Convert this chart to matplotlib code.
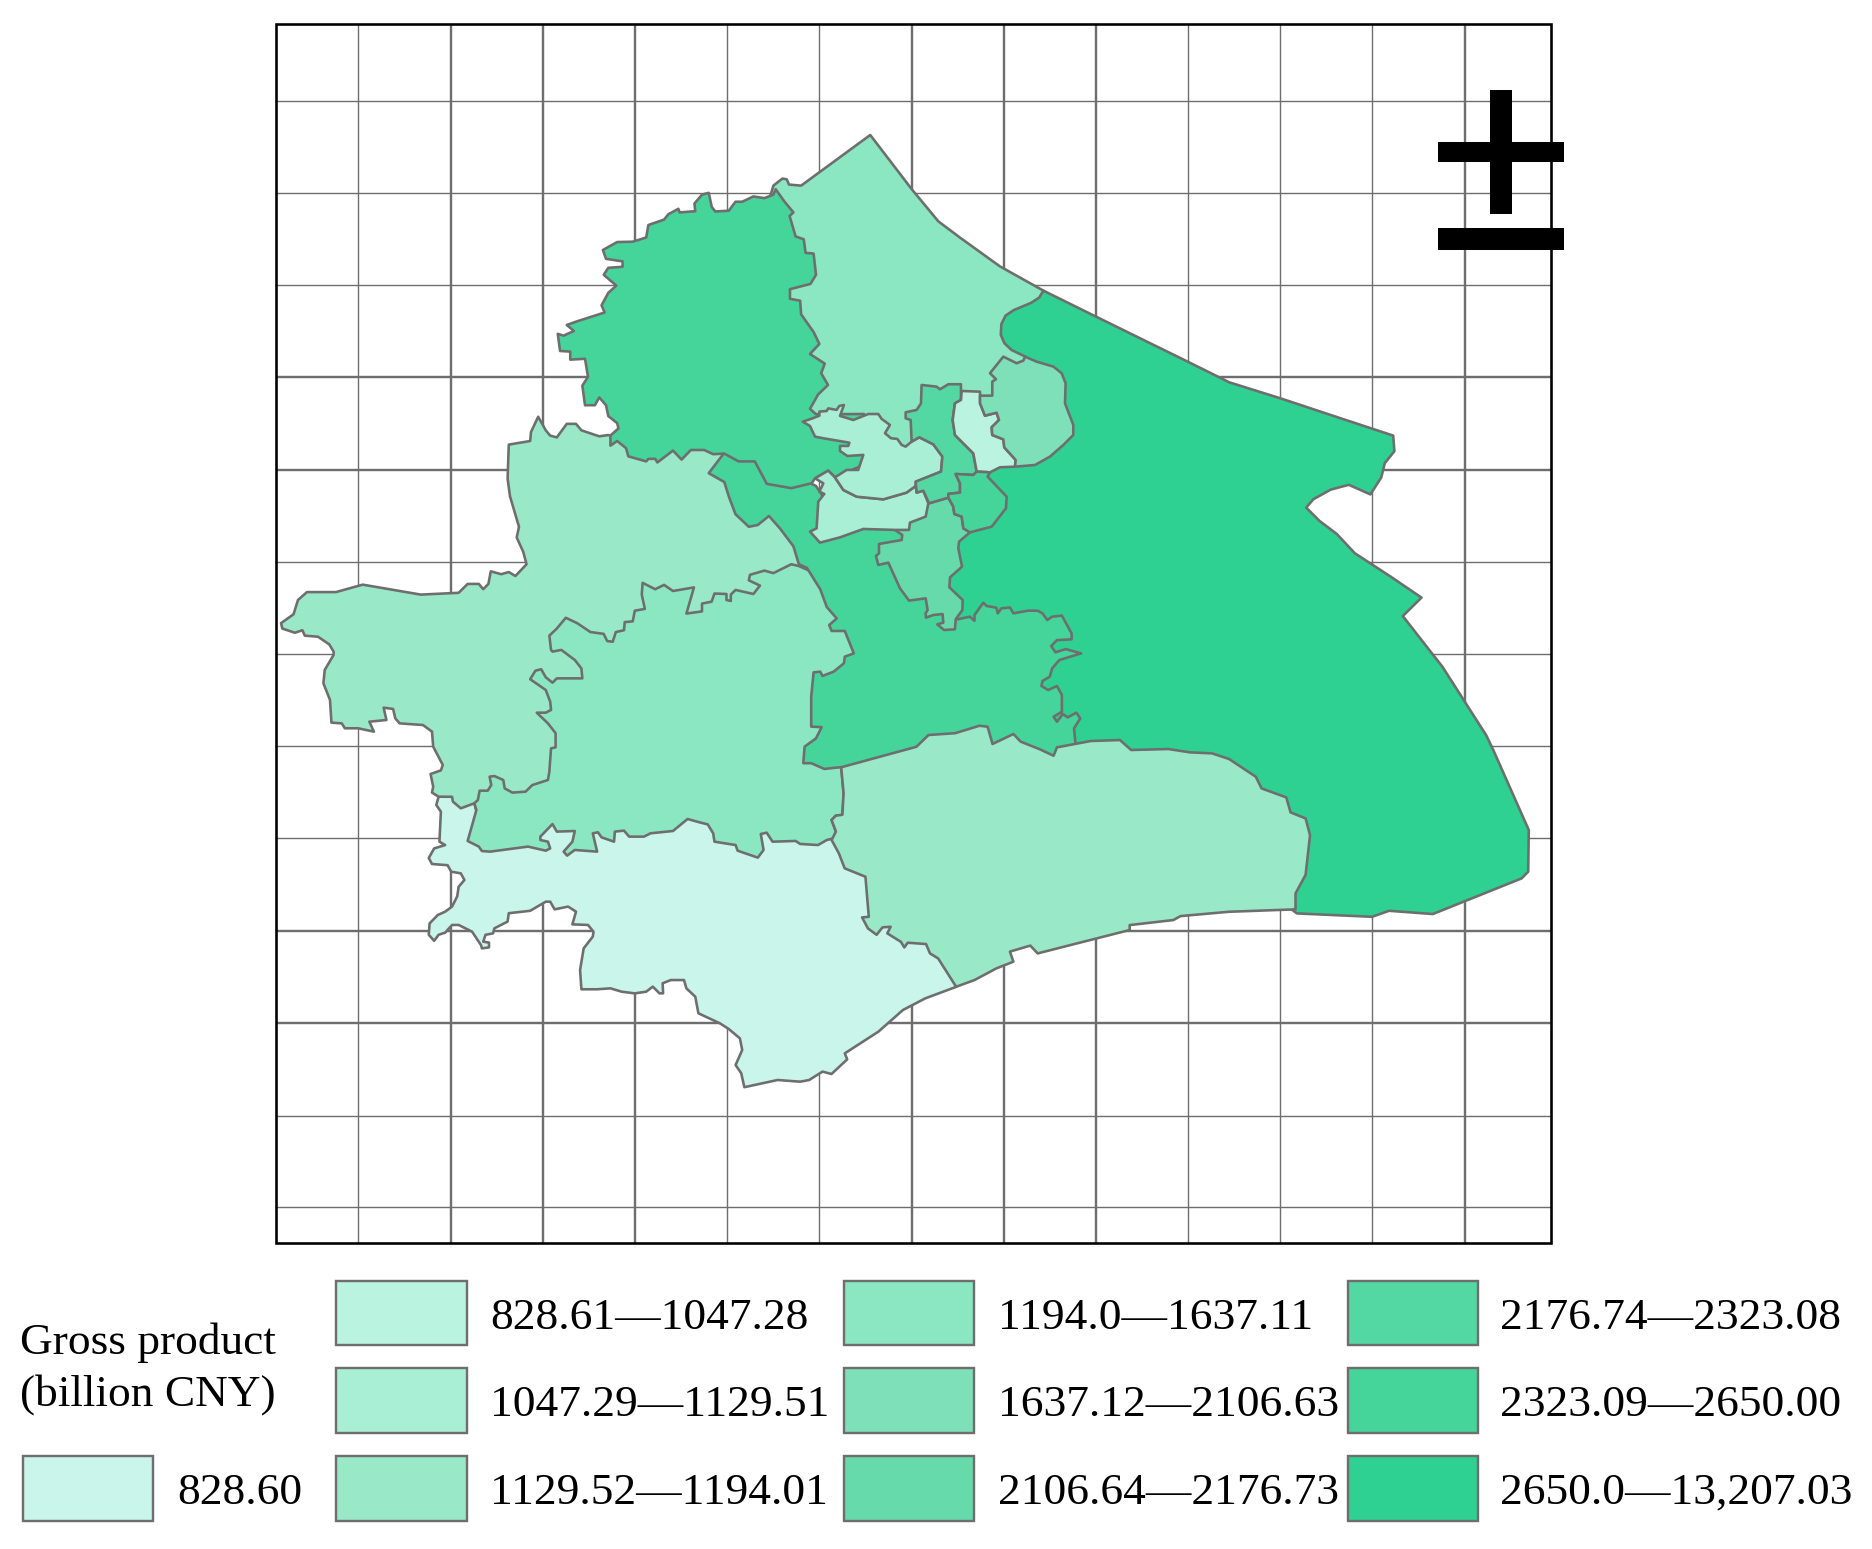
"""Choropleth of gross product by district, drawn in picture units (1 unit = 1.2 px)."""

import matplotlib

matplotlib.use("Agg")
import matplotlib.pyplot as plt  # noqa: E402
from matplotlib.patches import Polygon, Rectangle  # noqa: E402

plt.rcParams["font.family"] = ["Liberation Serif", "DejaVu Serif"]

# legend classes, lightest first
class_labels = ["828.60", "828.61\u20141047.28", "1047.29\u20141129.51", "1129.52\u20141194.01",
                "1194.0\u20141637.11", "1637.12\u20142106.63", "2106.64\u20142176.73",
                "2176.74\u20142323.08", "2323.09\u20142650.00", "2650.0\u201413,207.03"]
class_colors = ["#C9F5EA", "#BAF3E0", "#A9EFD6", "#99E9C9", "#8AE7C1",
                "#7DE0B8", "#66DAAB", "#54D8A3", "#45D49A", "#2ED191"]

# graticule
grid_x_thin = [298.5, 606.2, 682.8, 990.1, 1066.9, 1143.4]
grid_x_thick = [375.9, 452.5, 529.2, 759.8, 836.6, 913.0, 1220.8]
grid_y_thin = [84.5, 161.0, 237.8, 468.1, 545.2, 621.9, 698.6, 929.8, 1006.0]
grid_y_thick = [314.5, 391.3, 775.8, 852.5]

# district outlines; later ones are drawn over earlier ones and hide the rough inner edges
east = [(869.5, 242.2), (912.4, 263.4), (989.8, 301.4), (1017.8, 315.3), (1024.4, 318.6), (1067.2, 332),
        (1120, 349.5), (1161, 363), (1162, 376), (1154, 386), (1151, 398), (1142, 412), (1124, 404),
        (1109, 408), (1094.5, 416), (1088.5, 423), (1099.5, 434), (1114, 445), (1129, 461), (1159, 480.6),
        (1184.6, 498), (1169, 513.4), (1202, 555.6), (1238.4, 612.5), (1244.4, 625), (1274, 691.7),
        (1273.5, 726.4), (1268, 732), (1194, 761.7), (1157.6, 759), (1143.4, 764), (1080.8, 761.2),
        (1000, 700), (780, 560), (770, 470), (780, 410), (800, 400), (810, 350), (820, 270)]
south = [(365.5, 663.9), (363.6, 670.8), (367.4, 676.4), (366.2, 701.4), (371, 704.2), (361.8, 707),
         (357.3, 715), (360, 720), (373, 721), (376, 726.4), (384, 727.8), (387, 733.3), (382.2, 739),
         (381, 747), (376.7, 755.5), (371, 759.7), (364.8, 762.5), (358, 769.5), (357.3, 779), (361.8, 784),
         (365.5, 779), (371, 777.2), (376.7, 770.8), (382.2, 770.8), (393.4, 776.4), (400.8, 787.5),
         (401.6, 790.3), (407.5, 789.5), (407.5, 785.5), (402.7, 784.7), (404.6, 779), (410.9, 777.8),
         (412, 773.6), (423, 768), (424, 761), (441.8, 759), (454.8, 751.4), (458.5, 751.4), (462.2, 757.8),
         (473.4, 755.5), (480, 759.7), (477, 770.3), (490, 770.8), (494.6, 776.4), (494, 780.5),
         (486.4, 790.3), (483.4, 808.3), (484.5, 824.4), (497.6, 824.4), (508.7, 823.6), (518, 826.4),
         (529, 827.8), (538.5, 826.4), (544, 822.2), (549.6, 827.8), (552.6, 827.8), (552.2, 819.4),
         (559, 816.7), (570, 816.7), (572, 823.6), (579.4, 830.6), (582, 844.4), (600, 852.8), (607.3, 857.5),
         (616.6, 865.3), (618.5, 875), (613, 887.5), (617.7, 894.4), (620.3, 906), (648, 900), (666.8, 901.4),
         (674.3, 900), (685.4, 893), (692.9, 895), (706, 882.8), (704, 877.8), (732, 859.7), (752.4, 841.7),
         (771, 832), (797, 822.3), (780, 740), (680, 680), (500, 680), (420, 680), (400, 660)]
west = [(448.5, 347.3), (454.8, 358.6), (458.5, 363), (464, 364.5), (472.3, 353.2), (480, 353.2), (484.5, 358.6),
        (499.4, 363.6), (507, 362.5), (512, 365), (520, 360), (590, 360), (640, 400), (690, 470), (600, 600),
        (450, 680), (398, 680), (395.3, 669.4), (384, 673.6), (377.4, 668), (376.7, 664), (365.5, 663.9),
        (360, 660.5), (361, 655.5), (358.8, 645), (367.4, 642), (369, 637.5), (361, 622.2), (360, 609.7),
        (352.5, 604.2), (333, 602.8), (329.4, 598.6), (327.6, 590.8), (319.7, 589.7), (322, 600), (307.8, 601.4),
        (311.6, 609.7), (298.5, 606.9), (287.4, 606.9), (284.8, 602.8), (276.2, 602.2), (275, 583.3),
        (269.5, 569.4), (270.6, 558.3), (278, 545.8), (278, 543), (274.4, 537), (265, 530.6), (254, 529.7),
        (252, 525.2), (245.7, 527.3), (235.3, 523.8), (234.2, 519.3), (244.6, 511.9), (248.3, 500),
        (255.8, 493.4), (280, 493.4), (302.3, 487.2), (350.6, 495.5), (382.2, 494), (389.7, 486.6), (399, 486.6),
        (402.7, 491), (407, 486.6), (409, 476.1), (417.6, 478.5), (424, 476.7), (429.5, 480), (438.8, 470.2),
        (436, 459.8), (430.6, 447.9), (432.5, 439), (425, 413.6), (423, 398.8), (424, 370.5), (441.8, 367.5),
        (442.5, 360)]
middle = [(665.7, 471.7), (659.4, 470.2), (644.5, 477.6), (637, 475.5), (625, 479), (624, 483.6), (633.3, 488),
          (627.8, 495), (613, 491.6), (609, 495.5), (609, 500.8), (605.4, 500), (605.4, 495), (595.4, 494.6),
          (593, 501.4), (585, 503), (585, 509.5), (572, 511.3), (578.3, 489.5), (560.8, 492.5), (553.4, 487.4),
          (546, 491), (535.5, 485.7), (534.8, 495.5), (537.4, 507.4), (529, 508.9), (527.3, 517.8), (520.6, 518.4),
          (520, 525.2), (513.2, 526.7), (510.6, 534.8), (506, 534.2), (503, 528.2), (492, 526.7), (481, 519.3),
          (471.5, 514.8), (464, 523.8), (457.8, 529.7), (459.2, 541.6), (460.4, 543), (467.8, 541.6), (479, 550),
          (484.5, 557), (485.3, 565.3), (464, 565.3), (460.4, 568.9), (454.8, 564.4), (451, 557.7), (446.2, 558.9),
          (441.8, 566), (454.8, 575), (458.5, 584.7), (459.2, 591.6), (454.8, 593.9), (447.3, 593.9), (456.6, 602.8),
          (463, 611), (463, 622.8), (459.2, 623.6), (457.8, 643), (456.6, 650), (443.6, 654.2), (438, 659.7),
          (427, 660.5), (420.6, 657), (419.4, 650), (412, 646.7), (408, 647.2), (409.4, 654.2), (406.4, 658.9),
          (399.7, 658.9), (398.2, 666.7), (395.3, 669.4), (397, 675), (389.7, 700.8), (399, 705.5), (401.6, 709.2),
          (408.3, 709.7), (440, 705.5), (454.8, 708.9), (458.5, 707), (456.6, 701.4), (450.3, 700), (450.3, 697.2),
          (460.4, 686.7), (464, 693), (479, 692.5), (477, 701.4), (469.7, 709.7), (472.6, 713), (479, 708.3),
          (497.6, 709.7), (494, 694.4), (498.3, 693.6), (501.3, 697.8), (511.7, 701.4), (512.4, 693), (520, 692.2),
          (524.3, 697.2), (536.6, 697.2), (542.2, 694.4), (560.8, 692.5), (573, 682.5), (583, 685.3), (589.8, 687),
          (594.3, 694.4), (595.4, 701.4), (613, 704.2), (614.7, 708.9), (631.5, 714.7), (636.3, 708.3), (634, 695),
          (638.9, 693.9), (643.8, 701.4), (663, 700.8), (666.8, 703.3), (681.7, 704.2), (689, 700), (694.7, 698.6),
          (696.6, 693), (693, 683.3), (696.6, 679.7), (702, 679), (703, 661), (701, 639.4), (730, 500)]
north = [(644.5, 154.7), (652, 148.8), (655.6, 149.4), (657.5, 153.8), (667.6, 154.7), (725.2, 112.5), (759.8, 157.7),
         (782, 184.5), (800, 198), (833.3, 222), (869.5, 242.2), (866, 248), (859, 252.5), (844.8, 258.4), (838, 263),
         (834.5, 270), (834, 279), (837, 286), (843, 291.7), (854.7, 297.3), (854, 300), (840, 350), (760, 380),
         (700, 375), (680, 360), (650, 300), (640, 170)]
central_band = [(603.6, 377.3), (590.6, 394.3), (603.6, 401.7), (607.3, 413.6), (612.9, 428.5), (624, 439),
                (631.5, 437.5), (640.8, 430), (650, 440.4), (661.2, 455.3), (665.7, 470.2), (672.4, 473.2),
                (683.5, 491), (689, 505.9), (697.3, 515.4), (691, 520.8), (693, 525.8), (704, 525.8), (711.5, 544.5),
                (704, 547.2), (703.3, 552.7), (694.7, 559.7), (685.4, 563.3), (683.5, 559.7), (678, 560.3),
                (676, 580.5), (676, 605.5), (684.7, 606), (680, 615.3), (670.5, 622.2), (669.4, 636), (676, 636),
                (687, 640.8), (696.6, 639.7), (701, 639.4), (800, 640), (880, 640), (896.2, 625), (896.2, 618.9),
                (895, 607), (900.2, 598.7), (897, 593.9), (889.7, 597.8), (885.7, 595), (880.8, 601.4), (878, 597.3),
                (884.9, 593.1), (884.9, 579.2), (880.8, 571.7), (873.5, 575), (867.9, 571.7), (868.7, 567.5),
                (874.8, 563.9), (876.8, 557), (882.8, 550), (901, 544.5), (888, 540.9), (879.6, 543.6), (876, 538.4),
                (880.8, 533.4), (893, 532.8), (893, 527.8), (886.9, 516.7), (884.9, 513), (876.8, 513.9),
                (872.7, 516.7), (868.7, 511.1), (864.7, 508.9), (856.6, 508.9), (844.5, 511.1), (841.6, 506.2),
                (834.4, 507), (831.5, 511.1), (830.3, 506.4), (822.2, 505), (819.4, 502.3), (812.1, 512.5),
                (812.1, 517.3), (808.1, 513.9), (798, 516.1), (770, 450), (740, 430), (690, 420), (680, 405),
                (660, 395), (630, 380)]
northwest = [(646.4, 157.7), (653.8, 168.1), (661.2, 177), (658, 180), (663, 197), (669.8, 199.4), (671.3, 210.7),
             (678, 211.3), (680, 229), (675.4, 236.6), (658.3, 241), (658.3, 249), (666.8, 250.6), (667.6, 261.9),
             (678, 276.7), (682.8, 286.6), (675, 295), (687.3, 303), (684.3, 311), (690, 320.8), (681.7, 328.8),
             (675, 340.7), (680, 345.2), (720, 345), (725, 385), (695.8, 397.8), (690.2, 392.2), (679.2, 398.6),
             (676.4, 402.7), (659.4, 406.8), (639, 403.2), (629, 384.5), (615.5, 384.5), (603.6, 378), (594.3, 378.5),
             (586.8, 375), (575.7, 375), (568, 383), (560.8, 375.5), (547.8, 385.4), (546, 382.4), (540.3, 382.4),
             (538.5, 384.5), (523.6, 380.3), (521.7, 373.5), (514.3, 367.5), (508.7, 371.4), (508.7, 363), (515.4, 357),
             (514.3, 352.6), (506.9, 346.7), (505, 337.7), (499.4, 331.2), (495.7, 337.7), (487.5, 337.7), (485.3, 321.4),
             (490, 314), (487.5, 299), (475.2, 299.7), (475.2, 293), (466.7, 292.5), (464.8, 278.2), (469.7, 279.7),
             (478.2, 275.8), (472.3, 270.8), (480.8, 267.8), (503.9, 260.4), (501.3, 254.4), (506.9, 244), (513.6, 238),
             (503.1, 229), (506.9, 223.2), (518.8, 222.3), (518.8, 217.8), (505, 215.7), (502.4, 208.3), (514.3, 201.7),
             (527.3, 201.4), (538.5, 197.9), (540.3, 187.5), (553.4, 183), (557, 178.5), (565.3, 174), (566.4, 177),
             (579.4, 176), (578.7, 169.6), (585, 162.2), (590.6, 160.7), (593.2, 172.6), (596.1, 176.2), (607.3, 175.6),
             (612.9, 168.1), (618.5, 168.1), (627.8, 163.7), (637, 165.1), (644.5, 162.2)]
southeast = [(701, 639.4), (763.7, 622.3), (773.8, 612.5), (796, 611), (816.2, 604.8), (823, 605.6), (827.1, 620),
             (844.5, 611.7), (850.5, 618), (866.7, 624.5), (878, 629.8), (880.8, 622.8), (909, 617.5), (933.3, 616.7),
             (942.6, 625), (973.7, 624.2), (991.9, 627), (1010, 627.8), (1024.2, 632.5), (1046.5, 647.3), (1051.3, 657),
             (1071.9, 664.5), (1075.5, 677), (1088, 682), (1091.7, 696), (1088, 729), (1079.6, 744.5), (1079.6, 757.8),
             (1024.2, 759.8), (983.8, 763.4), (977.8, 766.7), (941.4, 770.9), (941.4, 775), (864.7, 794.5), (858.6, 788),
             (841.6, 793), (844.5, 801.4), (830.3, 807), (812.1, 816.7), (796.8, 822.3), (781.8, 798.7), (775, 794.5),
             (771.7, 786.7), (756.4, 785.6), (753.6, 789.5), (750.7, 784.8), (739.4, 777.8), (742.2, 772.3), (735.4, 772.8),
             (730.5, 779), (723.3, 773.7), (718.4, 764.5), (724, 764), (721.2, 730.6), (703.9, 723.6), (699, 711), (693, 700),
             (696.6, 693), (693, 683.3), (696.6, 679.7), (702, 679), (703, 661)]
xuhui = [(774.2, 419.4), (790.3, 414.7), (794.4, 422.2), (795.3, 428.3), (801.4, 430.5), (802.8, 440.3), (808.3, 443.6),
         (799.2, 451.4), (798.6, 457), (801.7, 472.2), (791.7, 481.1), (791.1, 489.4), (802.2, 500), (802, 508.3),
         (796.4, 516.1), (795.8, 524.4), (786.7, 525), (781.1, 520.3), (786.1, 518.9), (785.5, 511.7), (777.8, 512.5),
         (771.6, 514.7), (771.4, 511.1), (773, 508.3), (771.4, 498.6), (757.5, 500.5), (750, 490.3), (740.3, 468.9),
         (731.9, 470.8), (730, 463.3), (732.5, 461.1), (732.5, 453.3), (751.4, 450), (751.9, 445.8), (745.8, 441.6),
         (760, 430)]
changning = [(690.2, 392.2), (695.8, 397.8), (702.8, 408.3), (713.9, 413.9), (736.1, 416.1), (755.5, 410.5), (763, 405),
             (763.9, 410.5), (769.4, 408.9), (773.6, 419.4), (771.4, 430.5), (758.3, 435.5), (757.5, 441.6), (745.8, 441.6),
             (719.4, 440.8), (700, 447.8), (683.3, 452.2), (675, 443), (680.5, 440.3), (681.9, 418), (686.9, 411.6),
             (682.8, 409.7), (686.1, 402.8), (679.2, 398.6)]
putuo = [(668.9, 351.4), (675, 355), (679.2, 363.9), (686.1, 365.2), (707.8, 368.9), (706.9, 371.6), (700, 371.6),
         (700, 375.8), (706.1, 380), (719.4, 379.1), (715.2, 391.6), (705.5, 391.6), (695.8, 397.8), (702.8, 408.3),
         (713.9, 413.9), (736.1, 416.1), (755.5, 410.5), (763, 405), (763.3, 401.4), (784.2, 393), (785.3, 380.5),
         (777.8, 370.3), (766.1, 364.4), (759.7, 368), (754.7, 372.2), (751.4, 370.8), (747.8, 365.8), (742.5, 365.2),
         (737.5, 361), (741.6, 354.1), (734.7, 349.1), (731.9, 345), (723.6, 345), (711.1, 350), (700, 346.6),
         (703.3, 337.5), (699.4, 338.3), (697.2, 341.6), (690.2, 340.3), (688.9, 342.5), (682.8, 343), (682.8, 346.4),
         (677.2, 348.6)]
zhabei = [(768, 320.8), (780.5, 322.2), (783.3, 324.4), (790.3, 320.2), (800.8, 320.2), (800.8, 333.3), (795.8, 336.1),
          (793.9, 350), (795.8, 362.5), (811.1, 377.8), (813.9, 393), (811.1, 395.8), (796.4, 395), (800, 402.8),
          (800, 410.5), (790.3, 411.6), (790.3, 414.7), (774.2, 419.4), (769.4, 408.9), (763.9, 410.5), (763, 401.4),
          (784.2, 393), (785.3, 380.5), (777.8, 370.3), (766.1, 364.4), (759.7, 368), (758.9, 350), (754.7, 348.6),
          (754.7, 343.6), (763.9, 341.6), (767.5, 336.1)]
hongkou = [(801.4, 325.8), (816.7, 326.4), (816.7, 336.1), (820.8, 346.4), (830.5, 343.9), (832.5, 350), (826.4, 356.1),
           (826.9, 362.5), (836.1, 366.1), (836.9, 372.8), (846.4, 383.3), (845.8, 388.9), (833.3, 389.4), (825, 393.6),
           (813.9, 393), (811.1, 377.8), (795.8, 362.5), (793.9, 350), (795.8, 336.1), (800.8, 333.3)]
yangpu = [(836.1, 297.2), (847.2, 302.7), (852.8, 300.5), (854.2, 297.2), (863.9, 301.4), (877.8, 305.5), (884.7, 311),
          (888, 319.4), (887.5, 336.1), (894.4, 354.1), (894.4, 362.5), (886.1, 370.8), (875, 380.5), (862.5, 387.5),
          (845.8, 388.9), (846.4, 383.3), (836.9, 372.8), (836.1, 366.1), (826.9, 362.5), (826.4, 356.1), (832.5, 350),
          (830.5, 343.9), (820.8, 346.4), (816.7, 336.1), (816.7, 329.7), (826.9, 329.7), (826.9, 318), (830, 316), (825, 311)]
huangpu = [(796.4, 395), (811.1, 395.8), (813.9, 393), (825, 393.6), (823, 397.2), (838.9, 413.9), (838.3, 423.6),
           (826.4, 438.9), (808.3, 443.6), (802.8, 440.3), (801.4, 430.5), (795.3, 428.3), (794.4, 422.2), (790.3, 414.7),
           (790.3, 411.6), (800, 410.5), (800, 402.8)]

# (outline, legend class), in drawing order
districts = [(east, 9), (south, 0), (west, 3), (middle, 4), (north, 4), (central_band, 8), (northwest, 8),
             (southeast, 3), (xuhui, 6), (changning, 2), (putuo, 2), (zhabei, 7), (hongkou, 1), (yangpu, 5), (huangpu, 8)]

EDGE = "#6E6E6E"
PX = 0.72  # one pixel in points at dpi 100

fig = plt.figure(figsize=(18.72, 15.49), dpi=100)
ax = fig.add_axes([0, 0, 1, 1])
ax.set_xlim(0, 1560)
ax.set_ylim(1290.83, 0)
ax.axis("off")

# graticule and frame
ax.vlines(grid_x_thin, 20, 1036, color=EDGE, lw=1.4 * PX, zorder=1)
ax.vlines(grid_x_thick, 20, 1036, color=EDGE, lw=2.4 * PX, zorder=1)
ax.hlines(grid_y_thin, 230, 1292.3, color=EDGE, lw=1.4 * PX, zorder=1)
ax.hlines(grid_y_thick, 230, 1292.3, color=EDGE, lw=2.4 * PX, zorder=1)
ax.add_patch(Rectangle((230, 20), 1062.3, 1016, fill=False, ec="black", lw=2.6 * PX, zorder=2))

for z, (outline, cls) in enumerate(districts):
    ax.add_patch(Polygon(outline, closed=True, fc=class_colors[cls], ec=EDGE, lw=2.6 * PX,
                         joinstyle="round", zorder=3 + z * 0.01))

# north mark
ax.add_patch(Rectangle((1241.6, 75), 18.4, 103.3, fc="black", ec="none", zorder=5))
ax.add_patch(Rectangle((1198.4, 118.3), 104.8, 16.7, fc="black", ec="none", zorder=5))
ax.add_patch(Rectangle((1198.4, 190), 104.8, 18.3, fc="black", ec="none", zorder=5))

# legend
FS = 32.7
swatch_w, swatch_h = 108.5, 54
row_y = [1067.2, 1140.3, 1213.4]
col_x = [280.3, 703.5, 1123.4]
text_x = [408.5, 831.5, 1250]
for i in range(9):
    col, row = i // 3, i % 3
    ax.add_patch(Rectangle((col_x[col], row_y[row]), swatch_w, swatch_h, fc=class_colors[i + 1],
                           ec=EDGE, lw=2.4 * PX, zorder=4))
    ax.text(text_x[col], row_y[row] + swatch_h / 2, class_labels[i + 1], fontsize=FS, ha="left",
            va="center_baseline", color="black")
ax.add_patch(Rectangle((19, row_y[2]), swatch_w, swatch_h, fc=class_colors[0], ec=EDGE, lw=2.4 * PX, zorder=4))
ax.text(147.3, row_y[2] + swatch_h / 2, class_labels[0], fontsize=FS, ha="left", va="center_baseline", color="black")
ax.text(17, 1115, "Gross product", fontsize=FS, ha="left", va="center_baseline", color="black")
ax.text(17, 1158, "(billion CNY)", fontsize=FS, ha="left", va="center_baseline", color="black")

fig.savefig("out.png", dpi=100)
plt.close(fig)
